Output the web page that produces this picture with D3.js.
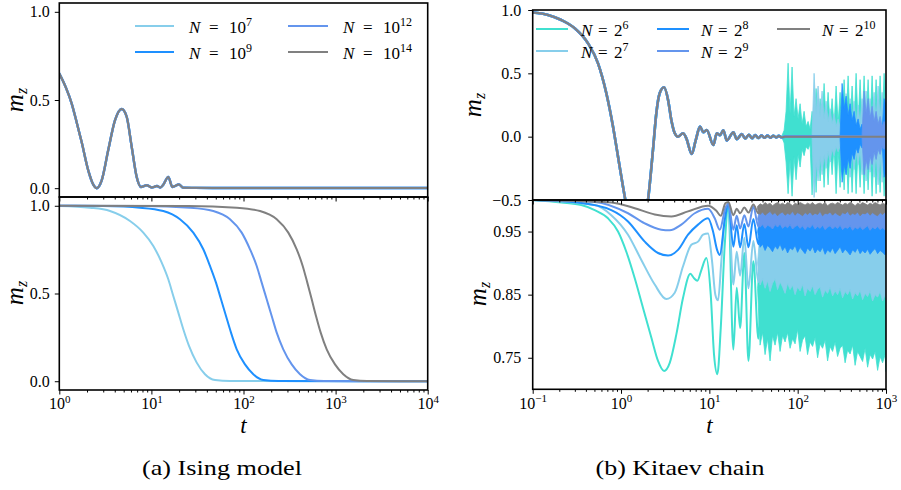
<!DOCTYPE html>
<html>
<head>
<meta charset="utf-8">
<script src="https://cdn.jsdelivr.net/npm/d3@7/dist/d3.min.js"></script>
</head>
<body style="margin:0">
<svg id="chart" width="901" height="490" font-family="Liberation Serif"></svg>
<script>
// ================= DATA : (a) Ising model =================
const isingExps = ["7","9","12","14"];
const isingColors = ["#87CEEB","#1E90FF","#6495ED","#808080"];
const isingXExps = ["0","1","2","3","4"];
const isingXTicks = [1,10,100,1000,10000];
const isingYTicks = [0,0.5,1.0];
// top panel: all N coincide
const isingTop = [[1,0.65],[1.18,0.57],[1.363,0.48],[1.55,0.37],[1.751,0.26],[2.065,0.10],[2.34,0.02],[2.547,0.0],[2.89,0.045],[3.40,0.216],[4.03,0.386],[4.76,0.449],[5.39,0.405],[6.11,0.235],[6.92,0.064],[7.71,0.007],[8.89,0.017],[10.08,0.004],[11.5,0.012],[12.5,0.004],[13.47,0.02],[15.25,0.064],[16.9,0.007],[19.9,0.021],[22.2,0.003],[30,0.002],[100,0.001],[10000,0.001]];
// bottom panel
const ising7 = [[1,0.999],[2.154,0.989],[3.553,0.970],[5.857,0.913],[8.166,0.847],[10.49,0.771],[12.94,0.676],[15.26,0.581],[17.29,0.486],[19.60,0.391],[22.20,0.296],[25.60,0.201],[31.04,0.106],[38.19,0.040],[49.05,0.007],[71.36,0.001],[10000,0]];
const ising9 = [[1,1.0],[3,0.998],[7.52,0.989],[13.46,0.970],[20.44,0.923],[28.50,0.847],[36.60,0.752],[43.28,0.657],[50.28,0.562],[56.97,0.467],[64.56,0.372],[73.16,0.277],[84.40,0.182],[103.8,0.096],[127.8,0.040],[164.1,0.007],[240,0.001],[10000,0]];
const ising12 = [[1,1.0],[8,0.999],[26.25,0.989],[47.0,0.970],[71.36,0.923],[95.6,0.847],[117.7,0.752],[139.1,0.657],[157.6,0.562],[178.6,0.467],[202.4,0.372],[229.4,0.277],[270.4,0.182],[333.8,0.096],[410.8,0.040],[527.2,0.007],[750,0.001],[10000,0]];
const ising14 = [[1,1.0],[25,0.999],[84.4,0.989],[151.1,0.970],[229.4,0.923],[306.5,0.847],[378.1,0.752],[439.3,0.657],[492.9,0.562],[550.3,0.467],[612.7,0.372],[689.0,0.277],[800.6,0.182],[985.1,0.096],[1212,0.040],[1557,0.007],[2200,0.001],[10000,0]];

// ================= DATA : (b) Kitaev chain =================
const kitaevExps = ["6","7","8","9","10"];
const kitaevColors = ["#40E0D0","#87CEEB","#1E90FF","#6495ED","#808080"];
const kitaevXExps = ["\u22121","0","1","2","3"];
const kitaevXTicks = [0.1,1,10,100,1000];
const kitaevTopYTicks = [-0.5,0,0.5,1.0];
const kitaevBotYTicks = [0.75,0.85,0.95];
// top panel: common early-time curve
const kitaevTop = [[0.1,0.98],[0.149,0.961],[0.211,0.921],[0.299,0.856],[0.423,0.737],[0.549,0.579],[0.682,0.343],[0.812,0.079],[0.925,-0.158],[1.053,-0.395],[1.119,-0.5],[1.25,-0.68],[1.5,-0.76],[1.8,-0.68],[2.02,-0.5],[2.30,-0.105],[2.51,0.185],[2.74,0.343],[3.07,0.39],[3.41,0.29],[3.71,0.132],[4.06,0.027],[4.42,0.0],[5.04,0.027],[5.49,-0.013],[6.32,-0.137],[7.0,-0.03],[7.85,0.079],[8.55,0.035],[9.34,0.053],[11.1,-0.066],[12.13,0.026],[13.2,0.012],[14.41,0.05],[15.74,-0.03],[18.7,0.035],[20.4,-0.02],[23.3,0.02],[25.5,-0.015],[28,0.015],[30.5,-0.013],[33,0.012],[36,-0.011],[39,0.01],[42,-0.009],[45.5,0.008],[49,-0.008],[53,0.007],[57,-0.006],[61,0.006],[66,-0.005],[72,0.0],[1000,0.0]];
// top panel: revival bursts [t, upper, lower]
const kitaevTopBand6 = [[66.6,0.01,-0.01],[70.2,0.05,-0.05],[73.9,0.20,-0.20],[77.9,0.58,-0.45],[82.0,0.18,-0.18],[86.4,0.55,-0.47],[91.0,0.16,-0.16],[95.9,0.30,-0.34],[101.0,0.14,-0.14],[106.5,0.26,-0.24],[112.2,0.10,-0.10],[118.2,0.20,-0.15],[124.5,0.08,-0.08],[131.2,0.12,-0.10],[138.2,0.06,-0.06],[145.6,0.20,-0.46],[153.4,0.10,-0.10],[161.6,0.38,-0.44],[170.2,0.10,-0.10],[179.4,0.30,-0.35],[189.0,0.10,-0.10],[199.1,0.42,-0.40],[209.7,0.10,-0.10],[221.0,0.35,-0.38],[232.8,0.10,-0.08],[245.3,0.30,-0.30],[258.4,0.08,-0.08],[272.3,0.40,-0.45],[286.8,0.10,-0.10],[302.2,0.35,-0.40],[318.4,0.10,-0.10],[335.4,0.45,-0.42],[353.4,0.10,-0.10],[372.3,0.48,-0.45],[392.2,0.10,-0.10],[413.2,0.40,-0.44],[435.4,0.10,-0.10],[458.6,0.50,-0.45],[483.1,0.10,-0.10],[509.0,0.45,-0.40],[536.2,0.10,-0.10],[564.9,0.48,-0.45],[595.1,0.10,-0.10],[627.0,0.45,-0.42],[660.7,0.10,-0.10],[696.0,0.48,-0.47],[733.2,0.10,-0.10],[772.5,0.45,-0.45],[813.8,0.10,-0.10],[857.5,0.48,-0.44],[903.3,0.10,-0.10],[951.7,0.50,-0.47],[1000,0.20,-0.20]];
const kitaevTopBand7 = [[145.6,0.02,-0.02],[153.4,0.50,-0.48],[161.6,0.18,-0.20],[170.2,0.40,-0.35],[179.4,0.16,-0.16],[189.0,0.36,-0.30],[199.1,0.14,-0.14],[209.7,0.28,-0.25],[221.0,0.12,-0.12],[232.8,0.22,-0.20],[245.3,0.10,-0.10],[258.4,0.18,-0.15],[272.3,0.08,-0.08],[286.8,0.14,-0.12],[302.2,0.07,-0.07],[318.4,0.30,-0.28],[335.4,0.10,-0.12],[353.4,0.34,-0.30],[372.3,0.12,-0.12],[392.2,0.30,-0.32],[413.2,0.12,-0.12],[435.4,0.28,-0.26],[458.6,0.10,-0.12],[483.1,0.25,-0.22],[509.0,0.10,-0.10],[536.2,0.30,-0.30],[564.9,0.12,-0.12],[595.1,0.36,-0.35],[627.0,0.12,-0.12],[660.7,0.30,-0.28],[696.0,0.12,-0.12],[733.2,0.35,-0.32],[772.5,0.12,-0.12],[813.8,0.40,-0.38],[857.5,0.14,-0.14],[903.3,0.35,-0.36],[951.7,0.14,-0.14],[1000,0.45,-0.42]];
const kitaevTopBand8 = [[302.2,0.02,-0.02],[318.4,0.42,-0.36],[335.4,0.22,-0.22],[353.4,0.32,-0.30],[372.3,0.17,-0.17],[392.2,0.26,-0.25],[413.2,0.13,-0.13],[435.4,0.20,-0.18],[458.6,0.09,-0.09],[483.1,0.14,-0.13],[509.0,0.06,-0.06],[536.2,0.10,-0.09],[564.9,0.04,-0.04],[595.1,0.06,-0.05],[627.0,0.03,-0.03],[660.7,0.04,-0.04],[696.0,0.03,-0.03],[733.2,0.04,-0.03],[772.5,0.03,-0.03],[813.8,0.03,-0.03],[857.5,0.03,-0.03],[903.3,0.05,-0.05],[951.7,0.30,-0.32],[1000,0.25,-0.28]];
const kitaevTopBand9 = [[536.2,0.02,-0.02],[564.9,0.36,-0.30],[595.1,0.18,-0.18],[627.0,0.30,-0.26],[660.7,0.15,-0.15],[696.0,0.24,-0.22],[733.2,0.12,-0.12],[772.5,0.20,-0.18],[813.8,0.10,-0.10],[857.5,0.16,-0.14],[903.3,0.08,-0.08],[951.7,0.12,-0.10],[1000,0.07,-0.07]];
// bottom panel: early-time curves
const kitaevBot6 = [[0.1,1.0],[0.211,0.996],[0.355,0.992],[0.504,0.984],[0.712,0.971],[0.925,0.950],[1.148,0.918],[1.430,0.876],[1.775,0.829],[2.203,0.782],[2.624,0.745],[3.069,0.729],[3.561,0.742],[4.230,0.787],[5.037,0.845],[6.093,0.883],[6.711,0.876],[7.313,0.872],[8.118,0.889],[9.247,0.908],[10.37,0.850],[11.30,0.755],[12.32,0.724],[13.46,0.797],[14.94,0.929],[16.41,0.99],[18.7,0.763],[20.4,0.861],[22.3,0.797],[24.9,0.916],[27.7,0.745],[31.5,0.903],[35.9,0.78],[39.2,0.89],[42.7,0.77]];
const kitaevBot7 = [[0.1,1.0],[0.504,0.992],[0.776,0.976],[1.2,0.945],[1.698,0.905],[2.408,0.866],[3.258,0.843],[4.057,0.853],[5.037,0.895],[6.254,0.929],[7.447,0.934],[8.486,0.945],[9.667,0.947],[10.73,0.903],[11.69,0.850],[12.55,0.841],[13.67,0.903],[15.18,0.982],[16.41,0.993],[18.7,0.866],[20.4,0.918],[22.3,0.88],[24.9,0.94],[27.7,0.86],[31.5,0.935],[35.9,0.87],[39.2,0.925],[42.7,0.875]];
const kitaevBot8 = [[0.1,1.0],[0.326,0.996],[0.776,0.984],[1.2,0.966],[1.855,0.934],[2.624,0.916],[3.406,0.912],[4.421,0.921],[5.739,0.945],[7.447,0.961],[9.667,0.971],[11.01,0.950],[12.23,0.921],[13.12,0.913],[14.94,0.968],[16.41,0.994],[18.7,0.926],[20.4,0.96],[22.3,0.925],[24.9,0.962],[27.7,0.925],[31.5,0.97],[35.9,0.93],[39.2,0.962],[42.7,0.928]];
const kitaevBot9 = [[0.1,1.0],[0.504,0.997],[1.2,0.979],[1.855,0.963],[2.86,0.953],[3.561,0.952],[4.818,0.961],[6.835,0.979],[9.667,0.986],[11.51,0.971],[13.12,0.953],[15.18,0.987],[16.41,0.994],[18.7,0.953],[20.4,0.975],[22.3,0.955],[24.9,0.976],[27.7,0.958],[31.5,0.99],[35.9,0.958],[39.2,0.978],[42.7,0.96]];
const kitaevBot10 = [[0.1,1.0],[0.776,0.996],[1.43,0.987],[2.408,0.977],[3.713,0.974],[5.739,0.982],[9.667,0.991],[12.0,0.983],[13.46,0.975],[15.18,0.995],[16.41,0.997],[18.7,0.976],[20.4,0.986],[22.3,0.979],[24.9,0.988],[27.7,0.98],[31.5,0.993],[35.9,0.979],[39.2,0.99],[42.7,0.98]];
// bottom panel: late-time fluctuation envelopes
const kbBandT = [35.15,37.52,40.05,42.74,45.61,48.68,51.96,55.46,59.21,63.20,
  67.45,71.99,76.84,82.01,87.53,93.46,99.75,106.5,113.6,121.3,
  129.4,138.2,147.5,157.4,168.1,179.4,191.4,204.4,218.1,232.8,
  248.5,265.3,283.1,302.2,322.5,344.3,367.4,392.2,418.6,446.8,
  476.9,509.0,543.3,579.9,618.9,660.7,705.1,752.7,803.4,857.5,
  915.3,976.8,1000];
// upper envelope level for the four lower-lying series (covered by the next series)
const kbUpper = [0.925,0.95,0.975,0.988];
const kbLo6 = [0.86,0.77,0.79,0.755,0.78,0.745,0.785,0.77,0.79,0.76,
  0.785,0.775,0.79,0.765,0.78,0.772,0.795,0.76,0.778,0.785,
  0.755,0.775,0.768,0.782,0.75,0.772,0.765,0.778,0.745,0.768,
  0.76,0.775,0.752,0.765,0.77,0.742,0.762,0.756,0.77,0.738,
  0.76,0.752,0.744,0.765,0.735,0.755,0.748,0.76,0.73,0.752,
  0.742,0.755,0.728];
const kbLo7 = [0.90,0.865,0.875,0.86,0.872,0.855,0.868,0.875,0.858,0.87,
  0.862,0.852,0.868,0.858,0.865,0.85,0.862,0.856,0.866,0.848,
  0.86,0.855,0.864,0.85,0.858,0.862,0.846,0.857,0.852,0.862,
  0.848,0.856,0.85,0.86,0.845,0.855,0.85,0.858,0.843,0.853,
  0.848,0.857,0.842,0.852,0.847,0.856,0.84,0.85,0.846,0.855,
  0.84,0.85,0.845];
const kbLo8 = [0.95,0.925,0.93,0.92,0.928,0.924,0.918,0.927,0.922,0.93,
  0.92,0.926,0.916,0.924,0.921,0.928,0.917,0.925,0.92,0.915,
  0.924,0.919,0.926,0.916,0.922,0.918,0.925,0.914,0.921,0.917,
  0.924,0.915,0.92,0.926,0.916,0.922,0.918,0.913,0.921,0.917,
  0.924,0.915,0.92,0.916,0.922,0.914,0.919,0.923,0.915,0.92,
  0.917,0.913,0.92];
const kbLo9 = [0.97,0.957,0.961,0.955,0.96,0.958,0.954,0.961,0.957,0.962,
  0.955,0.959,0.956,0.961,0.954,0.958,0.96,0.955,0.959,0.953,
  0.958,0.956,0.961,0.954,0.958,0.955,0.96,0.953,0.957,0.959,
  0.954,0.958,0.955,0.96,0.953,0.957,0.955,0.959,0.952,0.957,
  0.954,0.958,0.953,0.956,0.959,0.952,0.957,0.954,0.958,0.953,
  0.956,0.952,0.957];
const kbHi10 = [0.99,0.994,0.992,0.996,0.993,0.995,0.991,0.994,0.996,0.993,
  0.995,0.992,0.996,0.994,0.991,0.995,0.993,0.996,0.994,0.992,
  0.995,0.993,0.996,0.992,0.994,0.995,0.993,0.996,0.991,0.994,
  0.995,0.993,0.996,0.994,0.992,0.995,0.993,0.996,0.994,0.991,
  0.995,0.993,0.996,0.994,0.992,0.995,0.993,0.996,0.994,0.992,
  0.995,0.993,0.995];
const kbLo10 = [0.985,0.977,0.981,0.976,0.979,0.982,0.977,0.98,0.975,0.979,
  0.981,0.976,0.979,0.977,0.982,0.976,0.98,0.978,0.975,0.98,
  0.977,0.981,0.976,0.979,0.977,0.982,0.975,0.979,0.978,0.981,
  0.976,0.98,0.977,0.975,0.98,0.978,0.982,0.976,0.979,0.977,
  0.981,0.975,0.979,0.978,0.981,0.976,0.98,0.977,0.975,0.98,
  0.977,0.981,0.978];

// ================= DRAWING =================
const SERIF = '"Liberation Serif"';
const svg = d3.select("#chart");

const L = {x0:59.3, x1:427.7, top:3, mid:197, bot:390};
const R = {x0:532.7, x1:886, top:10, mid:200, bot:389.3};

const xL = d3.scaleLog().domain([1,1e4]).range([L.x0,L.x1]);
const yLT = d3.scaleLinear().domain([-0.05,1.05]).range([L.mid,L.top]);
const yLB = d3.scaleLinear().domain([-0.05,1.05]).range([L.bot,L.mid]);
const xR = d3.scaleLog().domain([0.1,1000]).range([R.x0,R.x1]);
const yRT = d3.scaleLinear().domain([-0.5,1.0]).range([R.mid,R.top]);
const yRB = d3.scaleLinear().domain([0.7,1.0]).range([R.bot,R.mid]);

// text helper: font family and size set as inline style
function txt(sel,size,italic){
  sel.style("font-family",SERIF).style("font-size",size+"px").style("fill","#000");
  if(italic) sel.style("font-style","italic");
  return sel;
}

let clipN = 0;
function panel(x,y){
  const id = "clp"+(clipN++);
  const [xa,xb] = x.range(); const [ya,yb] = y.range();
  svg.append("clipPath").attr("id",id).append("rect")
    .attr("x",xa).attr("y",yb).attr("width",xb-xa).attr("height",ya-yb);
  return svg.append("g").attr("clip-path",`url(#${id})`);
}
function drawLine(g,data,x,y,color,w){
  g.append("path").datum(data).attr("fill","none").attr("stroke",color)
    .attr("stroke-width",w).attr("stroke-linejoin","round").attr("stroke-linecap","round")
    .attr("d", d3.line().x(d=>x(d[0])).y(d=>y(d[1])).curve(d3.curveMonotoneX));
}
function drawBand(g,data,x,y,color){
  g.append("path").datum(data).attr("fill",color).attr("stroke",color)
    .attr("stroke-width",0.8).attr("stroke-linejoin","miter")
    .attr("d", d3.area().x(d=>x(d[0])).y0(d=>y(d[2])).y1(d=>y(d[1])));
}
function frame(x,y){
  const [xa,xb] = x.range(); const [ya,yb] = y.range();
  svg.append("rect").attr("x",xa).attr("y",yb).attr("width",xb-xa).attr("height",ya-yb)
    .attr("fill","none").attr("stroke","#000").attr("stroke-width",1.6);
}
function logMinors(dom){
  const out=[]; let d=dom[0];
  while(d < dom[1]*0.999){ for(let k=2;k<=9;k++) out.push(d*k); d*=10; }
  return out;
}
function xAxis(x,yPos,majors,exps,withLabels){
  const g = svg.append("g").attr("transform",`translate(0,${yPos})`);
  g.append("g").call(d3.axisBottom(x).tickValues(logMinors(x.domain())).tickSize(2.5).tickFormat(()=>""))
    .call(s=>s.select(".domain").remove());
  const gm = g.append("g").call(d3.axisBottom(x).tickValues(majors).tickSize(4.5).tickPadding(3.5).tickFormat(()=>""))
    .call(s=>s.select(".domain").remove());
  g.selectAll("g").attr("font-family",null).attr("font-size",null);
  if(withLabels){
    gm.selectAll(".tick text").each(function(d,i){
      const t = txt(d3.select(this),16);
      txt(t.append("tspan"),16).text("10");
      txt(t.append("tspan").attr("dy",-6.5),11).text(exps[i]);
    });
  }
  g.selectAll("line").attr("stroke","#000").attr("stroke-width",1);
}
function yAxis(y,xPos,vals,fmt,pad){
  const g = svg.append("g").attr("transform",`translate(${xPos},0)`)
    .call(d3.axisLeft(y).tickValues(vals).tickFormat(d3.format(fmt)).tickSize(4.5).tickPadding(pad))
    .call(s=>s.select(".domain").remove());
  g.attr("font-family",null).attr("font-size",null);
  txt(g.selectAll("text"),16);
  g.selectAll("line").attr("stroke","#000").attr("stroke-width",1);
}
function mzLabel(x,y){
  const t = txt(svg.append("text").attr("transform",`translate(${x},${y}) rotate(-90)`)
    .attr("text-anchor","middle"),25,true);
  txt(t.append("tspan"),25,true).text("m");
  txt(t.append("tspan").attr("dy",4),16,true).text("z");
}
function tLabel(x){
  txt(svg.append("text").attr("x",x).attr("y",433).attr("text-anchor","middle"),23,true).text("t");
}
function legendEntry(xh0,xh1,yh,xt,color,base,exp,dEq,dNum){
  svg.append("line").attr("x1",xh0).attr("x2",xh1).attr("y1",yh).attr("y2",yh)
    .attr("stroke",color).attr("stroke-width",2);
  txt(svg.append("text").attr("x",xt).attr("y",yh+7),17,true).text("N");
  txt(svg.append("text").attr("x",xt+dEq).attr("y",yh+7),17).text("=");
  const t = txt(svg.append("text").attr("x",xt+dNum).attr("y",yh+7),17);
  txt(t.append("tspan"),17).text(base);
  txt(t.append("tspan").attr("dy",-7),12).text(exp);
}

// ---------- (a) Ising : top ----------
{
  const g = panel(xL,yLT);
  isingColors.forEach((c,i)=> drawLine(g,isingTop,xL,yLT,c,i===3?2:2.4));
}
// ---------- (a) Ising : bottom ----------
{
  const g = panel(xL,yLB);
  [ising7,ising9,ising12,ising14].forEach((s,i)=> drawLine(g,s,xL,yLB,isingColors[i],2));
}
// ---------- (b) Kitaev : top ----------
{
  const g = panel(xR,yRT);
  const bands = [kitaevTopBand6,kitaevTopBand7,kitaevTopBand8,kitaevTopBand9,null];
  kitaevColors.forEach((c,i)=>{
    drawLine(g,kitaevTop,xR,yRT,c,i===4?2:2.6);
    if(bands[i]) drawBand(g,bands[i],xR,yRT,c);
  });
}
// ---------- (b) Kitaev : bottom ----------
{
  const g = panel(xR,yRB);
  const lines = [kitaevBot6,kitaevBot7,kitaevBot8,kitaevBot9,kitaevBot10];
  const los = [kbLo6,kbLo7,kbLo8,kbLo9,kbLo10];
  kitaevColors.forEach((c,i)=>{
    drawLine(g,lines[i],xR,yRB,c,2);
    const band = kbBandT.map((t,k)=>[t, i<4 ? (k===0 ? los[i][0] : kbUpper[i]) : kbHi10[k], los[i][k]]);
    drawBand(g,band,xR,yRB,c);
  });
}

// frames
frame(xL,yLT); frame(xL,yLB); frame(xR,yRT); frame(xR,yRB);

// axes
xAxis(xL,L.mid,isingXTicks,isingXExps,false);
xAxis(xL,L.bot,isingXTicks,isingXExps,true);
xAxis(xR,R.mid,kitaevXTicks,kitaevXExps,false);
xAxis(xR,R.bot,kitaevXTicks,kitaevXExps,true);
yAxis(yLT,L.x0,isingYTicks,".1f",5);
yAxis(yLB,L.x0,isingYTicks,".1f",5);
yAxis(yRT,R.x0,kitaevTopYTicks,".1f",7);
yAxis(yRB,R.x0,kitaevBotYTicks,".2f",7);

// axis labels
mzLabel(23,100); mzLabel(23,293);
mzLabel(481,105); mzLabel(486,294);
tLabel(243.5); tLabel(709.4);

// legends
const lgL = [[135,174,26,189],[135,174,52,189],[288,328,26,343],[288,328,52,343]];
isingExps.forEach((e,i)=>{ const p=lgL[i]; legendEntry(p[0],p[1],p[2],p[3],isingColors[i],"10",e,20,40); });
const lgR = [[536,568,29,581],[536,568,51,581],[657,689,29,701],[657,689,51,701],[777,810,29,822]];
kitaevExps.forEach((e,i)=>{ const p=lgR[i]; legendEntry(p[0],p[1],p[2],p[3],kitaevColors[i],"2",e,17,33); });

// captions
txt(svg.append("text").attr("x",222).attr("y",475).attr("text-anchor","middle")
  .attr("textLength",160).attr("lengthAdjust","spacingAndGlyphs"),22).text("(a) Ising model");
txt(svg.append("text").attr("x",680).attr("y",475).attr("text-anchor","middle")
  .attr("textLength",169).attr("lengthAdjust","spacingAndGlyphs"),22).text("(b) Kitaev chain");
</script>
</body>
</html>
